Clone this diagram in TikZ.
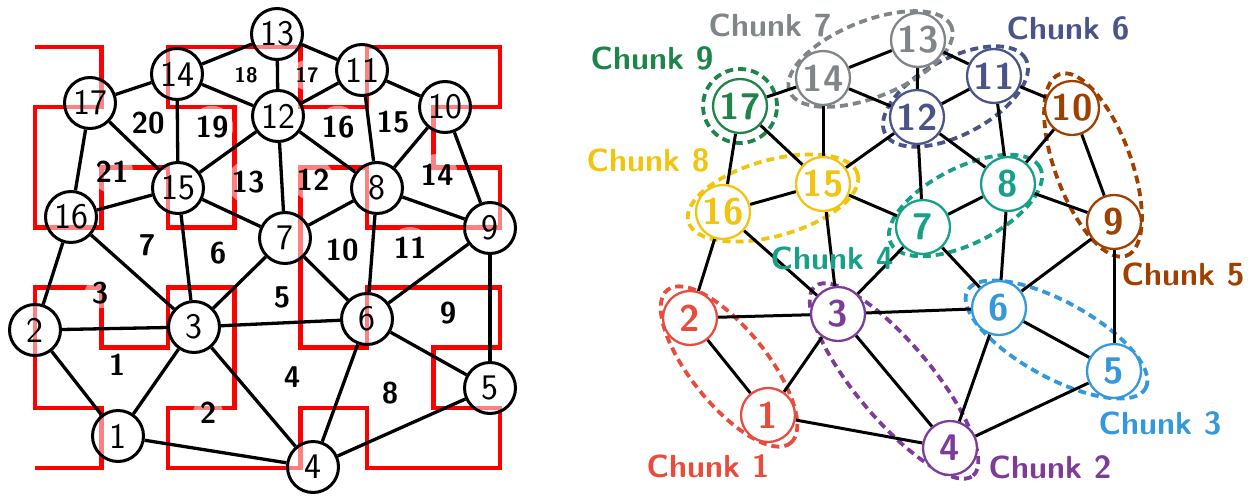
\documentclass[tikz,border=0pt]{standalone}
\usetikzlibrary{shapes.geometric,calc}
\pgfdeclarelayer{bgzero}
\pgfdeclarelayer{bgone}
\pgfsetlayers{bgzero,bgone,main}
\definecolor{cA}{HTML}{E74C3C}
\definecolor{cB}{HTML}{7D3C98}
\definecolor{cC}{HTML}{3498DB}
\definecolor{cD}{HTML}{16A085}
\definecolor{cE}{HTML}{A04000}
\definecolor{cF}{HTML}{4A5488}
\definecolor{cG}{HTML}{808587}
\definecolor{cH}{HTML}{F1C40F}
\definecolor{cI}{HTML}{1E8449}
\tikzset{
  lnode/.style={circle, draw=black, line width=3pt, fill=white, fill opacity=0.5, text opacity=1,
    minimum size=51pt, inner sep=0pt, font=\fontsize{36}{36}\sffamily},
  reglab/.style={circle, fill=white, fill opacity=0.5, text opacity=1, inner sep=1pt,
    font=\fontsize{30}{30}\bfseries\sffamily},
  reglabs/.style={reglab, font=\fontsize{21}{21}\bfseries\sffamily},
  ledge/.style={line width=3.3pt},
  redcurve/.style={draw=red, line width=4.5pt},
  rnode/.style={circle, draw=#1, text=#1, line width=2.3pt, fill=white, minimum size=54pt,
    inner sep=0pt, font=\fontsize{37}{37}\bfseries\sffamily},
  redge/.style={line width=3pt},
  chunkell/.style={ellipse, draw=#1, dash pattern=on 8pt off 5pt, line width=3.8pt, inner sep=0pt},
  clab/.style={text=#1, font=\fontsize{32}{32}\bfseries\sffamily}
}
\newcommand{\chunkring}[6]{% name, color, nodeA, nodeB, extra length, height
  \path let \p1=($(#4)-(#3)$), \n1={atan2(\y1,\x1)}, \n2={veclen(\x1,\y1)} in
    node[chunkell=#2, rotate=\n1, minimum width=\n2+#5, minimum height=#6] (#1) at ($(#3)!0.5!(#4)$) {};
}
\begin{document}
\begin{tikzpicture}[x=1pt,y=-1pt]
\useasboundingbox (0,0) rectangle (1257,498);
% ---------------- left graph
\begin{pgfonlayer}{bgzero}
\begin{scope}[shift={(35,47)},x=66.43pt,y=-60.14pt]
\draw[redcurve] (0,7) -- (1,7) -- (1,6) -- (0,6) -- (0,4) -- (1,4) -- (1,5) -- (2,5) -- (2,4) -- (3,4)
 -- (3,6) -- (2,6) -- (2,7) -- (4,7) -- (4,6) -- (5,6) -- (5,7) -- (7,7) -- (7,6) -- (6,6) -- (6,5)
 -- (7,5) -- (7,4) -- (5,4) -- (5,5) -- (4,5) -- (4,2) -- (5,2) -- (5,3) -- (7,3) -- (7,2) -- (6,2)
 -- (6,1) -- (7,1) -- (7,0) -- (5,0) -- (5,1) -- (4,1) -- (4,0) -- (2,0) -- (2,1) -- (3,1) -- (3,3)
 -- (2,3) -- (2,2) -- (1,2) -- (1,3) -- (0,3) -- (0,1) -- (1,1) -- (1,0) -- (0,0);
\end{scope}
\end{pgfonlayer}

\node[lnode] (L1) at (118,436) {1};
\node[lnode] (L2) at (35,330) {2};
\node[lnode] (L3) at (194,327) {3};
\node[lnode] (L4) at (313,467) {4};
\node[lnode] (L5) at (490,388) {5};
\node[lnode] (L6) at (367,319) {6};
\node[lnode] (L7) at (285,238) {7};
\node[lnode] (L8) at (377,188) {8};
\node[lnode] (L9) at (490,228) {9};
\node[lnode] (L10) at (445,107) {10};
\node[lnode] (L11) at (362,70) {11};
\node[lnode] (L12) at (278,116) {12};
\node[lnode] (L13) at (277,34) {13};
\node[lnode] (L14) at (177,74) {14};
\node[lnode] (L15) at (178,188) {15};
\node[lnode] (L16) at (71,217) {16};
\node[lnode] (L17) at (90,103) {17};

\begin{pgfonlayer}{bgone}
\foreach \a/\b in {13/14,13/12,13/11,14/17,14/12,14/15,11/12,11/10,11/8,17/15,17/16,12/15,12/7,12/8,
  10/8,10/9,15/16,15/7,15/3,8/7,8/9,8/6,16/3,16/2,7/3,7/6,9/6,9/5,2/3,2/1,3/1,3/6,3/4,6/5,6/4,5/4,1/4}
  \draw[ledge] (L\a) -- (L\b);
\end{pgfonlayer}

\node[reglabs] (f18) at (246,75) {18};
\node[reglabs] (f17) at (307,75) {17};
\node[reglab] (f20) at (148,123) {20};
\node[reglab] (f19) at (212,127) {19};
\node[reglab] (f16) at (338,127) {16};
\node[reglab] (f15) at (393,122) {15};
\node[reglab] (f21) at (112,172) {21};
\node[reglab] (f13) at (248,182) {13};
\node[reglab] (f12) at (313,180) {12};
\node[reglab] (f14) at (437,175) {14};
\node[reglab] (f7) at (147,245) {7};
\node[reglab] (f6) at (218,253) {6};
\node[reglab] (f10) at (342,250) {10};
\node[reglab] (f11) at (410,248) {11};
\node[reglab] (f3) at (100,293) {3};
\node[reglab] (f5) at (282,297) {5};
\node[reglab] (f9) at (448,313) {9};
\node[reglab] (f1) at (117,365) {1};
\node[reglab] (f4) at (292,377) {4};
\node[reglab] (f8) at (390,393) {8};
\node[reglab] (f2) at (208,413) {2};

% ---------------- right graph
\node[rnode=cA] (R1) at (768,415) {1};
\node[rnode=cA] (R2) at (690,318) {2};
\node[rnode=cB] (R3) at (838,314) {3};
\node[rnode=cB] (R4) at (950,448) {4};
\node[rnode=cC] (R5) at (1114,371) {5};
\node[rnode=cC] (R6) at (999,308) {6};
\node[rnode=cD] (R7) at (923,227) {7};
\node[rnode=cD] (R8) at (1008,184) {8};
\node[rnode=cE] (R9) at (1114,222) {9};
\node[rnode=cE] (R10) at (1072,108) {10};
\node[rnode=cF] (R11) at (994,76) {11};
\node[rnode=cF] (R12) at (917,117) {12};
\node[rnode=cG] (R13) at (918,40) {13};
\node[rnode=cG] (R14) at (823,78) {14};
\node[rnode=cH] (R15) at (823,184) {15};
\node[rnode=cH] (R16) at (723,212) {16};
\node[rnode=cI] (R17) at (740,106) {17};

\begin{pgfonlayer}{bgone}
\foreach \a/\b in {13/14,13/12,13/11,14/17,14/12,14/15,11/12,11/10,11/8,17/15,17/16,12/15,12/7,12/8,
  10/8,10/9,15/16,15/7,15/3,8/7,8/9,8/6,16/3,16/2,7/3,7/6,9/6,9/5,2/3,2/1,3/1,3/6,3/4,6/5,6/4,5/4,1/4}
  \draw[redge] (R\a) -- (R\b);
\end{pgfonlayer}

\begin{pgfonlayer}{bgzero}
\chunkring{K1}{cA}{R2}{R1}{72}{76}
\chunkring{K2}{cB}{R3}{R4}{72}{76}
\chunkring{K3}{cC}{R6}{R5}{72}{76}
\chunkring{K4}{cD}{R7}{R8}{72}{76}
\chunkring{K5}{cE}{R10}{R9}{72}{76}
\chunkring{K6}{cF}{R12}{R11}{72}{76}
\chunkring{K7}{cG}{R14}{R13}{72}{76}
\chunkring{K8}{cH}{R16}{R15}{72}{76}
\node[chunkell=cI, circle, minimum size=74pt] (K9) at (R17) {};
\end{pgfonlayer}

\node[clab=cA] (T1) at (708,466) {Chunk 1};
\node[clab=cB] (T2) at (1050,467) {Chunk 2};
\node[clab=cC] (T3) at (1160,423) {Chunk 3};
\node[clab=cD] (T4) at (832,258) {Chunk 4};
\node[clab=cE] (T5) at (1183,275) {Chunk 5};
\node[clab=cF] (T6) at (1068,28) {Chunk 6};
\node[clab=cG] (T7) at (770,25) {Chunk 7};
\node[clab=cH] (T8) at (648,160) {Chunk 8};
\node[clab=cI] (T9) at (652,58) {Chunk 9};
\end{tikzpicture}
\end{document}
